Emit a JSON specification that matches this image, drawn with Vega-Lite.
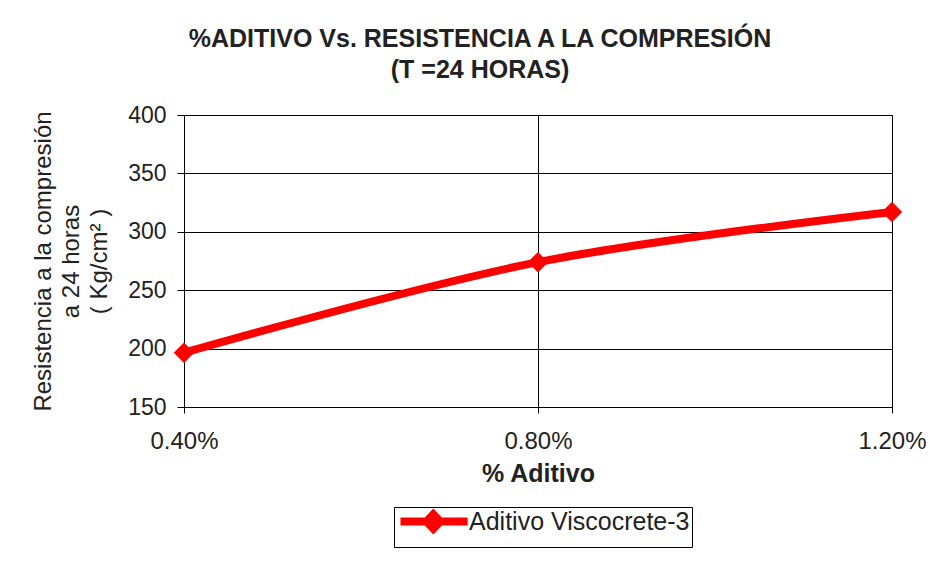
{
  "$schema": "https://vega.github.io/schema/vega-lite/v6.json",
  "width": 708,
  "height": 292,
  "autosize": {"type": "none"},
  "padding": {"left": 184, "top": 115, "right": 46, "bottom": 154},
  "background": "white",
  "title": {
    "text": ["%ADITIVO Vs. RESISTENCIA A LA COMPRESIÓN", "(T =24 HORAS)"],
    "font": "Liberation Sans",
    "fontSize": 25,
    "fontWeight": "bold",
    "color": "#222222",
    "anchor": "middle",
    "dx": -58,
    "offset": 21,
    "lineHeight": 31
  },
  "data": {
    "values": [
      {"aditivo": 0.4, "resistencia": 196.5, "serie": "Aditivo Viscocrete-3"},
      {"aditivo": 0.8, "resistencia": 274, "serie": "Aditivo Viscocrete-3"},
      {"aditivo": 1.2, "resistencia": 317, "serie": "Aditivo Viscocrete-3"}
    ]
  },
  "encoding": {
    "x": {
      "field": "aditivo",
      "type": "quantitative",
      "scale": {"domain": [0.4, 1.2], "nice": false, "zero": false},
      "axis": {
        "values": [0.4, 0.8, 1.2],
        "labelExpr": "format(datum.value, '.2f') + '%'",
        "title": "% Aditivo",
        "titleFont": "Liberation Sans",
        "titleFontSize": 25,
        "titleFontWeight": "bold",
        "titleColor": "#222222",
        "titlePadding": 8,
        "labelFont": "Liberation Sans",
        "labelFontSize": 24,
        "labelColor": "#222222",
        "labelPadding": 16,
        "labelFlush": false,
        "tickSize": 6,
        "tickColor": "black",
        "domainColor": "black",
        "gridColor": "black",
        "gridOpacity": 1,
        "grid": true
      }
    },
    "y": {
      "field": "resistencia",
      "type": "quantitative",
      "scale": {"domain": [150, 400], "nice": false, "zero": false},
      "axis": {
        "values": [150, 200, 250, 300, 350, 400],
        "title": ["Resistencia a la compresión", "a 24 horas", "( Kg/cm² )"],
        "titleFont": "Liberation Sans",
        "titleFontSize": 24,
        "titleFontWeight": "normal",
        "titleColor": "#222222",
        "titleLineHeight": 28,
        "titlePadding": 16,
        "labelFont": "Liberation Sans",
        "labelFontSize": 23,
        "labelColor": "#222222",
        "labelPadding": 11,
        "tickSize": 7,
        "tickColor": "black",
        "domainColor": "black",
        "gridColor": "black",
        "gridOpacity": 1,
        "grid": true
      }
    },
    "color": {
      "field": "serie",
      "type": "nominal",
      "scale": {"range": ["#ff0000"]},
      "legend": {
        "title": null,
        "orient": "none",
        "legendX": 210,
        "legendY": 392,
        "direction": "horizontal",
        "strokeColor": "black",
        "fillColor": "white",
        "padding": 2,
        "labelFont": "Liberation Sans",
        "labelFontSize": 25,
        "labelColor": "#222222",
        "labelLimit": 400,
        "labelOffset": 48,
        "symbolType": "M-1,0H7.4M2.25,0L3.1,-0.9L3.95,0L3.1,0.9Z",
        "symbolSize": 256,
        "symbolStrokeWidth": 8,
        "symbolFillColor": "#ff0000",
        "symbolStrokeColor": "#ff0000",
        "symbolOpacity": 1
      }
    }
  },
  "layer": [
    {
      "mark": {"type": "line", "strokeWidth": 8, "interpolate": "catmull-rom"}
    },
    {
      "mark": {"type": "point", "shape": "diamond", "filled": true, "size": 420, "opacity": 1}
    }
  ],
  "config": {
    "view": {"stroke": "black", "strokeWidth": 1}
  }
}
